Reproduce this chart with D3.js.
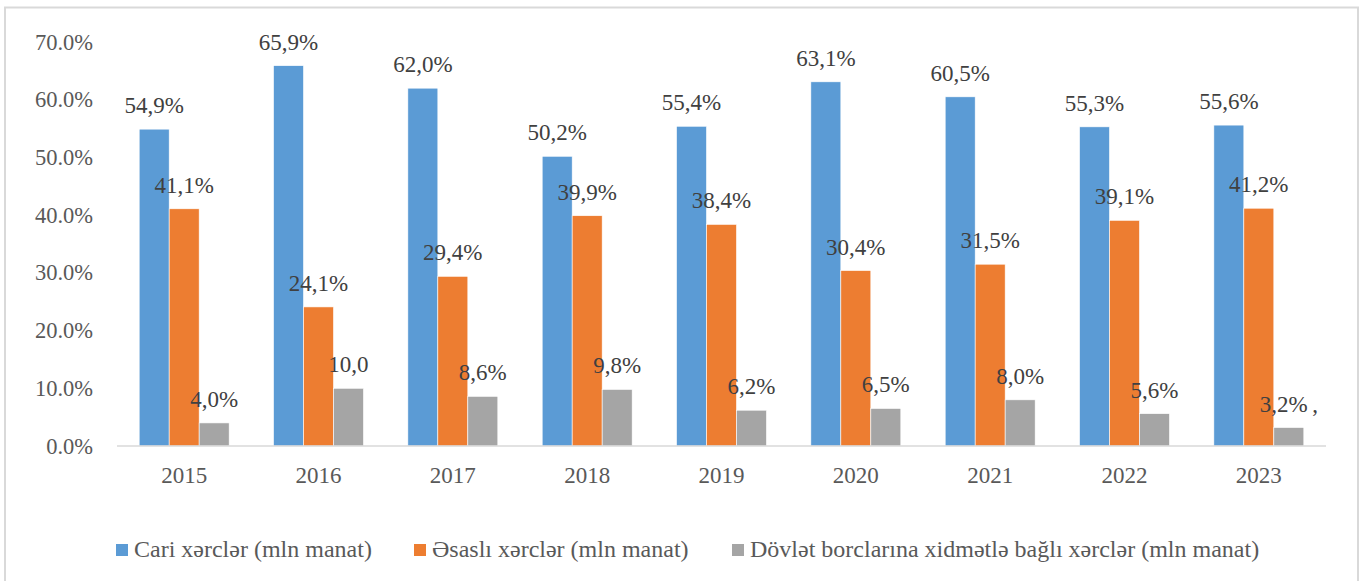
<!DOCTYPE html>
<html>
<head>
<meta charset="utf-8">
<script src="https://cdn.jsdelivr.net/npm/d3@7"></script>
<style>
  body { margin: 0; background: #fff; }
</style>
</head>
<body>
<svg id="chart" width="1363" height="581"></svg>
<script>
// data
const years = ['2015', '2016', '2017', '2018', '2019', '2020', '2021', '2022', '2023'];
const series = ['Cari xərclər (mln manat)', 'Əsaslı xərclər (mln manat)', 'Dövlət borclarına xidmətlə bağlı xərclər (mln manat)'];
const cari = [54.9, 65.9, 62.0, 50.2, 55.4, 63.1, 60.5, 55.3, 55.6];
const esasli = [41.1, 24.1, 29.4, 39.9, 38.4, 30.4, 31.5, 39.1, 41.2];
const borc = [4.0, 10.0, 8.6, 9.8, 6.2, 6.5, 8.0, 5.6, 3.2];
const cariLabels = ['54,9%', '65,9%', '62,0%', '50,2%', '55,4%', '63,1%', '60,5%', '55,3%', '55,6%'];
const esasliLabels = ['41,1%', '24,1%', '29,4%', '39,9%', '38,4%', '30,4%', '31,5%', '39,1%', '41,2%'];
const borcLabels = ['4,0%', '10,0', '8,6%', '9,8%', '6,2%', '6,5%', '8,0%', '5,6%', '3,2%\u2009,'];
const yTicks = [0, 10, 20, 30, 40, 50, 60, 70];
const colors = ['#5b9bd5', '#ed7d31', '#a5a5a5'];

const FONT = "'Liberation Serif', Tinos, 'Times New Roman', serif";

const svg = d3.select('#chart')
  .style('font-family', FONT);

// outer border
svg.append('rect')
  .attr('x', 5).attr('y', 7.5)
  .attr('width', 1353).attr('height', 580)
  .attr('fill', 'none')
  .attr('stroke', '#d9d9d9')
  .attr('stroke-width', 2);

const x0 = d3.scaleBand().domain(years).range([117, 1326]).padding(0);
const x1 = d3.scaleBand().domain(series).range([0, x0.bandwidth()])
  .paddingInner(0).paddingOuter(0.74);
const y = d3.scaleLinear().domain([0, 70]).range([446, 42]);

const rows = years.map(function(yr, i){
  return [
    {year: yr, s: series[0], v: cari[i], label: cariLabels[i], c: colors[0]},
    {year: yr, s: series[1], v: esasli[i], label: esasliLabels[i], c: colors[1]},
    {year: yr, s: series[2], v: borc[i], label: borcLabels[i], c: colors[2]}
  ];
});

const groups = svg.append('g').selectAll('g')
  .data(rows).join('g')
  .attr('transform', d => `translate(${x0(d[0].year)},0)`);

groups.selectAll('rect')
  .data(d => d).join('rect')
  .attr('x', d => x1(d.s))
  .attr('y', d => y(d.v))
  .attr('width', x1.bandwidth())
  .attr('height', d => y(0) - y(d.v))
  .attr('fill', d => d.c)
  .attr('stroke', '#ffffff')
  .attr('stroke-width', 0.6);

groups.selectAll('text')
  .data(d => d).join('text')
  .attr('x', d => x1(d.s) + x1.bandwidth() / 2)
  .attr('y', d => y(d.v) - 16)
  .attr('text-anchor', 'middle')
  .attr('font-size', 23)
  .attr('fill', '#404040')
  .text(d => d.label);

// x axis line
svg.append('line')
  .attr('x1', 117).attr('x2', 1326)
  .attr('y1', y(0)).attr('y2', y(0))
  .attr('stroke', '#d9d9d9').attr('stroke-width', 1.5);

// y tick labels
svg.append('g').selectAll('text')
  .data(yTicks).join('text')
  .attr('x', 93)
  .attr('y', d => y(d) + 7.5)
  .attr('text-anchor', 'end')
  .attr('font-size', 22.5)
  .attr('fill', '#595959')
  .text(d => d.toFixed(1) + '%');

// x labels
svg.append('g').selectAll('text')
  .data(years).join('text')
  .attr('x', d => x0(d) + x0.bandwidth() / 2)
  .attr('y', 483)
  .attr('text-anchor', 'middle')
  .attr('font-size', 23)
  .attr('fill', '#595959')
  .text(d => d);

// legend
const legendX = [116, 414, 732];
const legend = svg.append('g').selectAll('g')
  .data(series).join('g')
  .attr('transform', (d, i) => `translate(${legendX[i]},544)`);

legend.append('rect')
  .attr('width', 12).attr('height', 12)
  .attr('fill', (d, i) => colors[i]);

legend.append('text')
  .attr('x', 18).attr('y', 13)
  .attr('font-size', 24)
  .attr('fill', '#595959')
  .text(d => d);
</script>
</body>
</html>
